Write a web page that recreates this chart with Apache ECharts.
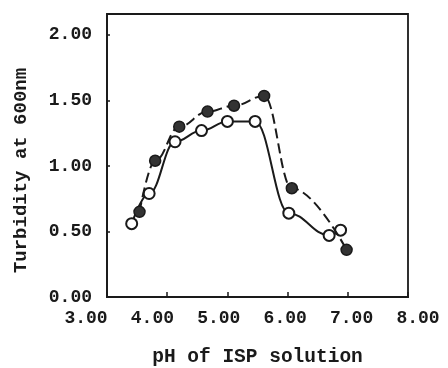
<!DOCTYPE html>
<html>
<head>
<meta charset="utf-8">
<script src="https://cdn.jsdelivr.net/npm/echarts@6/dist/echarts.min.js"></script>
<style>
  html, body { margin: 0; padding: 0; background: #fff; }
  #chart { width: 448px; height: 368px; }
</style>
</head>
<body>
<div id="chart"></div>
<script>
// open circles
const phOpen = [3.41, 3.70, 4.13, 4.57, 5.00, 5.46, 6.02, 6.69, 6.88];
const turbOpen = [0.56, 0.79, 1.185, 1.27, 1.34, 1.34, 0.64, 0.47, 0.51];
// filled circles
const phFilled = [3.54, 3.80, 4.20, 4.67, 5.11, 5.61, 6.07, 6.98];
const turbFilled = [0.65, 1.04, 1.30, 1.415, 1.46, 1.535, 0.83, 0.36];

const xTicks = [3, 4, 5, 6, 7, 8];
const yTicks = [0, 0.5, 1, 1.5, 2];

const font = 'Liberation Mono';
const ink = '#1a1a1a';

const chart = echarts.init(document.getElementById('chart'));

chart.setOption({
  backgroundColor: '#fff',
  animation: false,
  grid: [
    { left: 107, right: 40, top: 14, bottom: 71, outerBoundsMode: 'none', show: true, borderColor: ink, borderWidth: 1.8 },
    // labels of the x axis sit a bit wider than the ticks in the original
    { left: 86, right: 30, top: 14, bottom: 71, outerBoundsMode: 'none', show: false }
  ],
  xAxis: [
    {
      type: 'value',
      min: xTicks[0],
      max: xTicks[xTicks.length - 1],
      interval: 1,
      name: 'pH of ISP solution',
      nameLocation: 'middle',
      nameGap: 50,
      nameTextStyle: { fontFamily: font, fontWeight: 'bold', fontSize: 19.5, color: ink },
      axisLine: { lineStyle: { color: ink, width: 1.8 } },
      axisTick: { inside: true, length: 5, lineStyle: { color: ink, width: 1.5 } },
      axisLabel: { show: false },
      splitLine: { show: false }
    },
    {
      type: 'value',
      gridIndex: 1,
      min: xTicks[0],
      max: xTicks[xTicks.length - 1],
      interval: 1,
      axisLine: { show: false },
      axisTick: { show: false },
      splitLine: { show: false },
      axisLabel: {
        margin: 12,
        fontFamily: font, fontWeight: 'bold', fontSize: 18, color: ink,
        formatter: v => v.toFixed(2)
      }
    }
  ],
  yAxis: [
    {
      type: 'value',
      min: yTicks[0],
      max: 2.16,
      interval: 0.5,
      name: 'Turbidity at 600nm',
      nameLocation: 'middle',
      nameGap: 76,
      nameTextStyle: { fontFamily: font, fontWeight: 'bold', fontSize: 19, color: ink, padding: [0, 30, 0, 0] },
      axisLine: { show: true, lineStyle: { color: ink, width: 1.8 } },
      axisTick: { show: true, inside: true, length: 3, lineStyle: { color: ink, width: 1.5 } },
      axisLabel: {
        margin: 15,
        showMaxLabel: false,
        fontFamily: font, fontWeight: 'bold', fontSize: 18, color: ink,
        formatter: v => v.toFixed(2)
      },
      splitLine: { show: false }
    },
    { type: 'value', gridIndex: 1, show: false, min: 0, max: 2.16 }
  ],
  series: [
    {
      name: 'open',
      type: 'line',
      data: phOpen.map((x, i) => [x, turbOpen[i]]),
      smooth: 0.4,
      smoothMonotone: 'x',
      symbol: 'circle',
      symbolSize: 11,
      lineStyle: { color: ink, width: 2 },
      itemStyle: { color: '#fff', borderColor: ink, borderWidth: 2 },
      z: 3
    },
    {
      name: 'filled',
      type: 'line',
      data: phFilled.map((x, i) => [x, turbFilled[i]]),
      smooth: 0.4,
      smoothMonotone: 'x',
      symbol: 'circle',
      symbolSize: 11,
      lineStyle: { color: ink, width: 2, type: [10, 5] },
      itemStyle: { color: '#333', borderColor: ink, borderWidth: 1.5 },
      z: 4
    }
  ]
});

window.addEventListener('resize', () => chart.resize());
</script>
</body>
</html>
